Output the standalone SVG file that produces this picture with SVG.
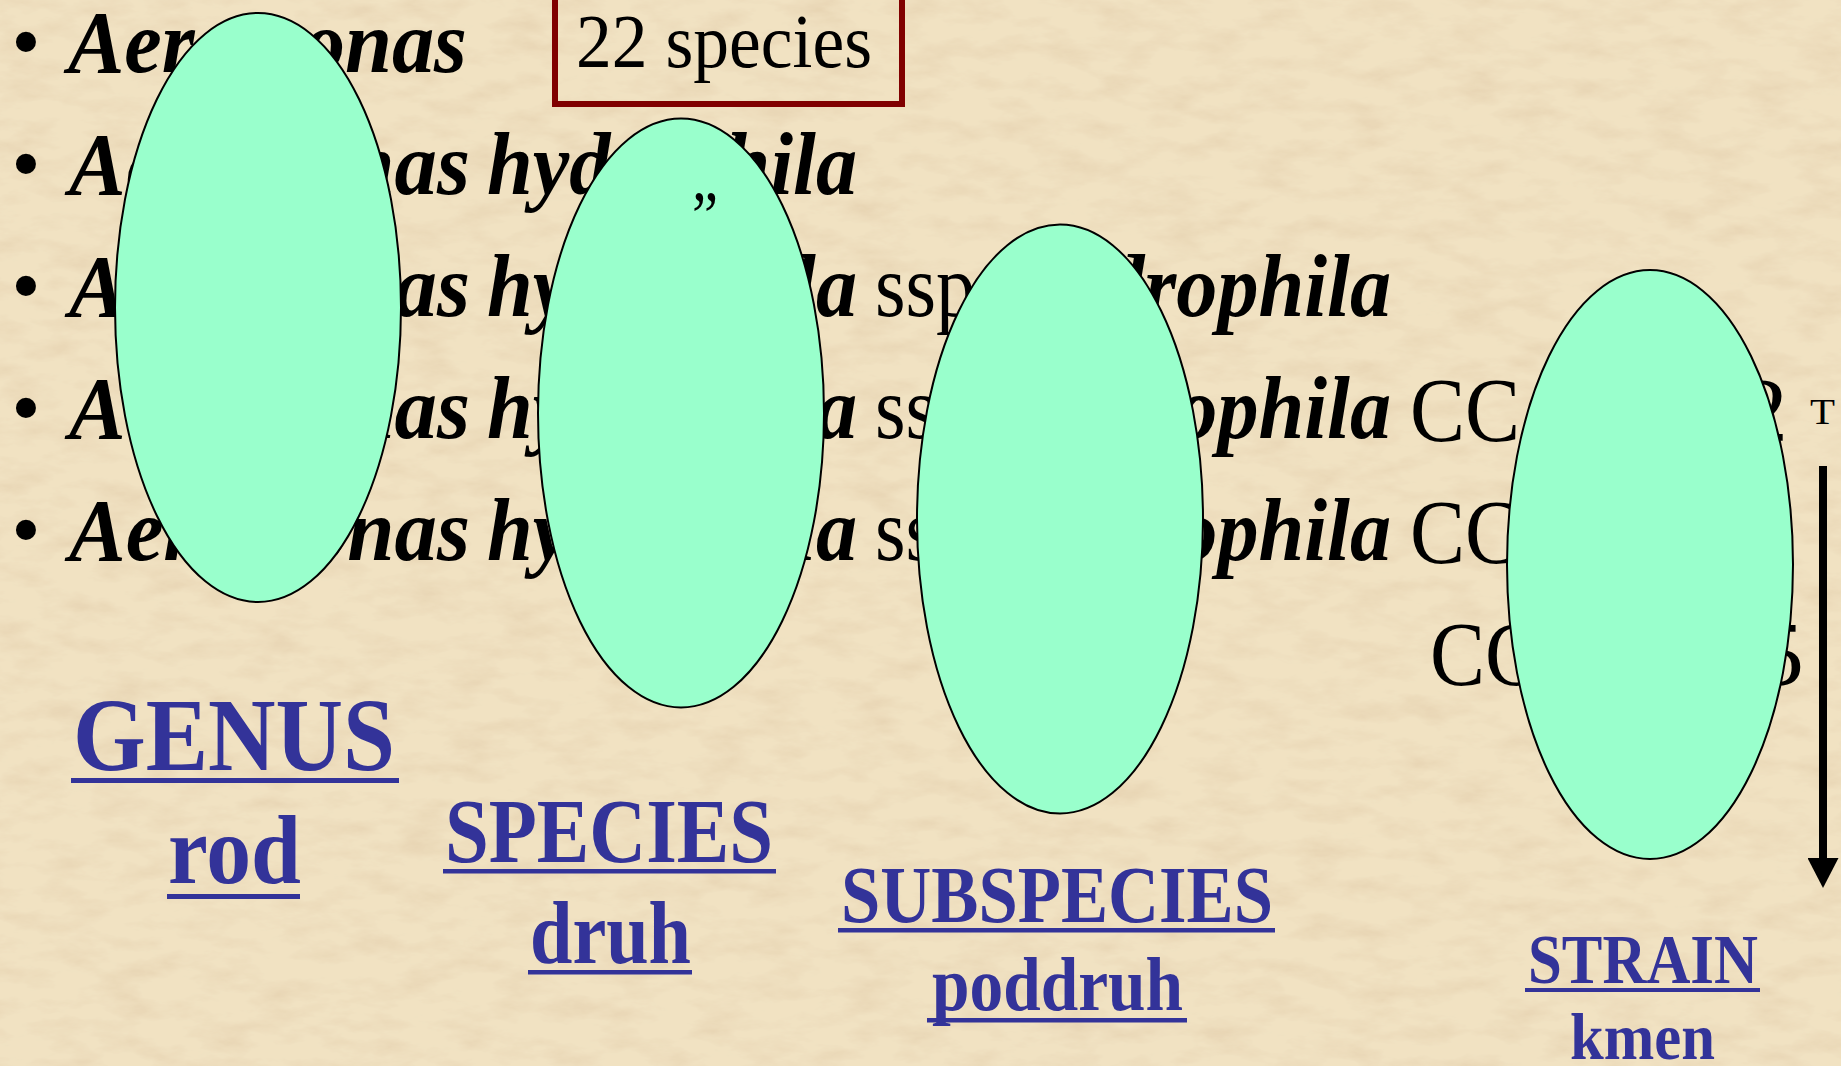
<svg xmlns="http://www.w3.org/2000/svg" width="1841" height="1066" viewBox="0 0 1841 1066">
<defs>
  <filter id="paper" x="0" y="0" width="1" height="1">
    <feFlood flood-color="#F1E2C2" result="base"/>
    <feTurbulence type="fractalNoise" baseFrequency="0.02 0.05" numOctaves="5" seed="7" result="noise"/>
    <feColorMatrix in="noise" type="matrix" values="0 0 0 0 0.80  0 0 0 0 0.66  0 0 0 0 0.45  1.9 0 0 0 -0.8" result="spots"/>
    <feMerge><feMergeNode in="base"/><feMergeNode in="spots"/></feMerge>
  </filter>
  <marker id="head" markerUnits="userSpaceOnUse" markerWidth="30" markerHeight="31" viewBox="0 0 30 31" refX="0" refY="15.5" orient="auto">
    <path d="M0,0 L30,15.5 L0,31 z" fill="#000"/>
  </marker>
</defs>
<style>
  .it { font-family: "Liberation Serif", "DejaVu Serif", serif; font-style: italic; font-weight: bold; font-size: 88px; fill: #000; }
  .rg { font-family: "Liberation Serif", "DejaVu Serif", serif; font-size: 88px; fill: #000; }
  .bul { font-family: "Liberation Serif", serif; font-size: 84px; fill: #000; }
  .lab { font-family: "Liberation Serif", "DejaVu Serif", serif; font-weight: bold; fill: #333399; }
  .ul { fill: #333399; }
  .node { fill: #99FFCC; stroke: #000; stroke-width: 2; }
</style>

<rect id="background" x="0" y="0" width="1841" height="1066" filter="url(#paper)"/>

<g id="list">
  <text class="bul" x="26" y="70" text-anchor="middle">•</text>
  <text class="bul" x="26" y="192" text-anchor="middle">•</text>
  <text class="bul" x="26" y="314" text-anchor="middle">•</text>
  <text class="bul" x="26" y="436" text-anchor="middle">•</text>
  <text class="bul" x="26" y="558" text-anchor="middle">•</text>

  <text class="it" x="68" y="72" textLength="399" lengthAdjust="spacingAndGlyphs">Aeromonas</text>

  <text class="it" x="69" y="194" textLength="401" lengthAdjust="spacingAndGlyphs">Aeromonas</text>
  <text class="it" x="487" y="194" textLength="370" lengthAdjust="spacingAndGlyphs">hydrophila</text>

  <text class="it" x="69" y="316" textLength="401" lengthAdjust="spacingAndGlyphs">Aeromonas</text>
  <text class="it" x="487" y="316" textLength="370" lengthAdjust="spacingAndGlyphs">hydrophila</text>
  <text class="rg" x="875" y="316" textLength="120" lengthAdjust="spacingAndGlyphs">ssp.</text>
  <text class="it" x="1021" y="316" textLength="370" lengthAdjust="spacingAndGlyphs">hydrophila</text>

  <text class="it" x="69" y="438" textLength="401" lengthAdjust="spacingAndGlyphs">Aeromonas</text>
  <text class="it" x="487" y="438" textLength="370" lengthAdjust="spacingAndGlyphs">hydrophila</text>
  <text class="rg" x="875" y="438" textLength="120" lengthAdjust="spacingAndGlyphs">ssp.</text>
  <text class="it" x="1021" y="438" textLength="370" lengthAdjust="spacingAndGlyphs">hydrophila</text>
  <text class="rg" x="1410" y="441" style="font-size:90px" textLength="110" lengthAdjust="spacingAndGlyphs">CC</text>
  <text class="rg" x="1740" y="441" style="font-size:90px" textLength="48" lengthAdjust="spacingAndGlyphs">2</text>
  <text class="rg" x="1810" y="424" style="font-size:36px" textLength="25" lengthAdjust="spacingAndGlyphs">T</text>

  <text class="it" x="69" y="560" textLength="401" lengthAdjust="spacingAndGlyphs">Aeromonas</text>
  <text class="it" x="487" y="560" textLength="370" lengthAdjust="spacingAndGlyphs">hydrophila</text>
  <text class="rg" x="875" y="560" textLength="120" lengthAdjust="spacingAndGlyphs">ssp.</text>
  <text class="it" x="1021" y="560" textLength="370" lengthAdjust="spacingAndGlyphs">hydrophila</text>
  <text class="rg" x="1410" y="563" style="font-size:90px" textLength="110" lengthAdjust="spacingAndGlyphs">CC</text>

  <text class="rg" x="1430" y="685" style="font-size:90px" textLength="110" lengthAdjust="spacingAndGlyphs">CC</text>
  <text class="rg" x="1756" y="685" style="font-size:90px" textLength="48" lengthAdjust="spacingAndGlyphs">5</text>
</g>

<g id="box-22-species">
  <rect x="555" y="-10" width="347" height="114" fill="none" stroke="#800000" stroke-width="6"/>
  <text class="rg" x="576" y="67" style="font-size:77px" textLength="296" lengthAdjust="spacingAndGlyphs">22 species</text>
</g>

<g id="node-genus">
  <ellipse class="node" cx="258" cy="307.5" rx="143" ry="294.5"/>
</g>
<g id="node-species">
  <ellipse class="node" cx="681" cy="413" rx="143" ry="294.5"/>
  <text class="rg" x="692" y="200" style="font-size:70px" textLength="26" lengthAdjust="spacingAndGlyphs">„</text>
</g>
<g id="node-subspecies">
  <ellipse class="node" cx="1060" cy="519" rx="143" ry="294.5"/>
</g>
<g id="node-strain">
  <ellipse class="node" cx="1650" cy="564.5" rx="143" ry="294.5"/>
</g>

<g id="labels">
  <text class="lab" x="73" y="770" style="font-size:103px" textLength="322" lengthAdjust="spacingAndGlyphs">GENUS</text>
  <rect class="ul" x="71" y="778" width="328" height="5"/>
  <text class="lab" x="168" y="883" style="font-size:97px" textLength="133" lengthAdjust="spacingAndGlyphs">rod</text>
  <rect class="ul" x="167" y="894" width="133" height="5"/>

  <text class="lab" x="445" y="862" style="font-size:92px" textLength="328" lengthAdjust="spacingAndGlyphs">SPECIES</text>
  <rect class="ul" x="443" y="869" width="333" height="4.5"/>
  <text class="lab" x="530" y="963" style="font-size:89px" textLength="161" lengthAdjust="spacingAndGlyphs">druh</text>
  <rect class="ul" x="528" y="970" width="164" height="4.5"/>

  <text class="lab" x="841" y="922" style="font-size:80px" textLength="432" lengthAdjust="spacingAndGlyphs">SUBSPECIES</text>
  <rect class="ul" x="838" y="928" width="437" height="4.5"/>
  <text class="lab" x="932" y="1010" style="font-size:77px" textLength="251" lengthAdjust="spacingAndGlyphs">poddruh</text>
  <rect class="ul" x="927" y="1018" width="260" height="4.5"/>

  <text class="lab" x="1528" y="983" style="font-size:70px" textLength="230" lengthAdjust="spacingAndGlyphs">STRAIN</text>
  <rect class="ul" x="1525" y="988" width="235" height="4"/>
  <text class="lab" x="1570" y="1059" style="font-size:65px" textLength="145" lengthAdjust="spacingAndGlyphs">kmen</text>
</g>

<g id="connectors">
  <line x1="1823" y1="466" x2="1823" y2="858" stroke="#000" stroke-width="8" marker-end="url(#head)"/>
</g>
</svg>
